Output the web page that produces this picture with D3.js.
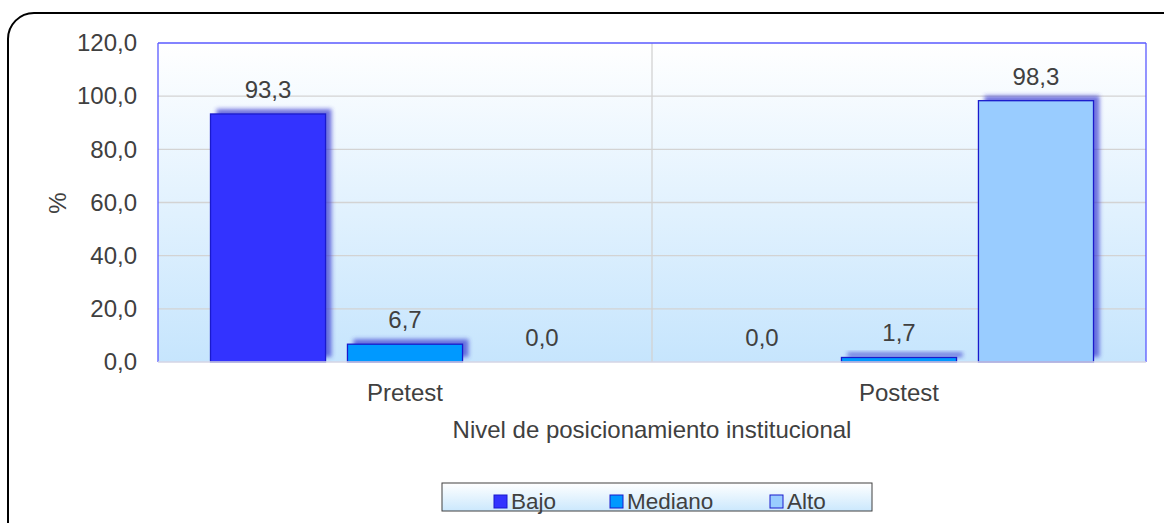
<!DOCTYPE html>
<html><head><meta charset="utf-8">
<script src="https://cdn.jsdelivr.net/npm/d3@7"></script>
<style>
html,body{margin:0;padding:0;background:#fff;}
svg{display:block;font-family:"Liberation Sans",Arial,sans-serif;}
</style></head>
<body>
<svg id="c" width="1164" height="523"></svg>
<script>
const categories = ["Pretest", "Postest"];
const seriesNames = ["Bajo", "Mediano", "Alto"];
const bajo = [93.3, 0.0];
const mediano = [6.7, 1.7];
const alto = [0.0, 98.3];
const yTicks = [0, 20, 40, 60, 80, 100, 120];
const colors = ["#3333ff", "#0099ff", "#99ccff"];
const xTitle = "Nivel de posicionamiento institucional";
const yTitle = "%";

const FS = 24;
const TXT = "#404040";
const seriesValues = [bajo, mediano, alto];
const svg = d3.select("#c");
const fmt = v => d3.format(".1f")(v).replace(".", ",");

const defs = svg.append("defs");
const g1 = defs.append("linearGradient").attr("id","bg").attr("x1",0).attr("y1",0).attr("x2",0).attr("y2",1);
g1.append("stop").attr("offset","0%").attr("stop-color","#ffffff");
g1.append("stop").attr("offset","100%").attr("stop-color","#c6e5fd");
const g2 = defs.append("linearGradient").attr("id","lg").attr("x1",0).attr("y1",0).attr("x2",0).attr("y2",1);
g2.append("stop").attr("offset","0%").attr("stop-color","#ffffff");
g2.append("stop").attr("offset","100%").attr("stop-color","#cbe8fd");
const f = defs.append("filter").attr("id","blur").attr("x","-20%").attr("y","-50%").attr("width","140%").attr("height","200%");
f.append("feGaussianBlur").attr("stdDeviation",2.2);

// outer border
svg.append("rect").attr("x",8).attr("y",13).attr("width",1180).attr("height",540).attr("rx",26)
  .attr("fill","none").attr("stroke","#000").attr("stroke-width",2);

const L = 158, T = 43, R = 1146, B = 362;
const x0 = d3.scaleBand().domain(categories).range([L, R]).paddingInner(0).paddingOuter(0);
const x1 = d3.scaleBand().domain(seriesNames).range([0, x0.bandwidth()]).paddingInner(0.16).paddingOuter(0.5*105/137);
const y = d3.scaleLinear().domain([0, 120]).range([B, T]);

svg.append("rect").attr("x",L).attr("y",T).attr("width",R-L).attr("height",B-T).attr("fill","url(#bg)");

// gridlines
svg.append("g").selectAll("line").data(yTicks.filter(t=>t>0 && t<120)).join("line")
  .attr("x1",L).attr("x2",R).attr("y1",d=>y(d)).attr("y2",d=>y(d))
  .attr("stroke","#d3d3d3").attr("stroke-width",1.3);
svg.append("line").attr("x1",x0("Postest")).attr("x2",x0("Postest")).attr("y1",T).attr("y2",B)
  .attr("stroke","#d3d3d3").attr("stroke-width",1.3);

// plot border
svg.append("line").attr("x1",L).attr("x2",L).attr("y1",T).attr("y2",B).attr("stroke","#5a5aff").attr("stroke-width",1.3);
svg.append("line").attr("x1",L).attr("x2",R).attr("y1",T).attr("y2",T).attr("stroke","#5a5aff").attr("stroke-width",1.3);
svg.append("line").attr("x1",R).attr("x2",R).attr("y1",T).attr("y2",B).attr("stroke","#5a5aff").attr("stroke-width",1.3);

// bars
const data = [];
categories.forEach((c,i)=>seriesNames.forEach((s,j)=>data.push({c,s,j,v:seriesValues[j][i]})));
const bars = svg.append("g");
const bx = d => x0(d.c) + x1(d.s);
bars.selectAll("rect.sh").data(data.filter(d=>d.v>0)).join("rect").attr("class","sh")
  .attr("x",d=>bx(d)+6).attr("y",d=>y(d.v)-5).attr("width",x1.bandwidth()).attr("height",d=>B-y(d.v))
  .attr("fill","#3b3bd0").attr("opacity",0.7).attr("filter","url(#blur)");
bars.selectAll("rect.b").data(data.filter(d=>d.v>0)).join("rect").attr("class","b")
  .attr("x",d=>bx(d)).attr("y",d=>y(d.v)).attr("width",x1.bandwidth()).attr("height",d=>B-y(d.v))
  .attr("fill",d=>colors[d.j]).attr("stroke","#1a1acc").attr("stroke-width",1.3);
svg.append("rect").attr("x",L).attr("y",B+1).attr("width",R-L+10).attr("height",8).attr("fill","#fff");
svg.append("line").attr("x1",L).attr("x2",R).attr("y1",B).attr("y2",B).attr("stroke","#d4d4e4").attr("stroke-width",1.3);

// labels
svg.append("g").selectAll("text").data(data).join("text")
  .attr("x",d=>bx(d)+x1.bandwidth()/2).attr("y",d=>y(d.v)-16)
  .attr("text-anchor","middle").attr("font-size",FS).attr("fill",TXT).text(d=>fmt(d.v));

// y axis
const ya = svg.append("g").attr("transform",`translate(${L},0)`)
  .call(d3.axisLeft(y).tickValues(yTicks).tickSize(0).tickPadding(21).tickFormat(fmt));
ya.select(".domain").remove();
ya.selectAll("text").attr("font-size",FS).attr("fill",TXT).attr("font-family","Liberation Sans, Arial, sans-serif");

// x axis
const xa = svg.append("g").attr("transform",`translate(0,${B})`)
  .call(d3.axisBottom(x0).tickSize(0).tickPadding(22));
xa.select(".domain").remove();
xa.selectAll("text").attr("font-size",FS).attr("fill",TXT).attr("font-family","Liberation Sans, Arial, sans-serif");

svg.append("text").attr("x",(L+R)/2).attr("y",438).attr("text-anchor","middle")
  .attr("font-size",FS).attr("fill",TXT).text(xTitle);
svg.append("text").attr("transform",`translate(66,203) rotate(-90)`).attr("text-anchor","middle")
  .attr("font-size",FS).attr("fill",TXT).text(yTitle);

// legend
svg.append("rect").attr("x",442).attr("y",483).attr("width",430).attr("height",28)
  .attr("fill","url(#lg)").attr("stroke","#404040").attr("stroke-width",1);
const legX = [494, 610, 770];
const lg = svg.append("g").selectAll("g").data(seriesNames).join("g")
  .attr("transform",(d,i)=>`translate(${legX[i]},495)`);
lg.append("rect").attr("width",13).attr("height",13).attr("y",0)
  .attr("fill",(d,i)=>colors[i]).attr("stroke","#1a1acc").attr("stroke-width",1);
lg.append("text").attr("x",17).attr("y",14).attr("font-size",22.5).attr("fill",TXT).text(d=>d);
</script>
</body></html>
